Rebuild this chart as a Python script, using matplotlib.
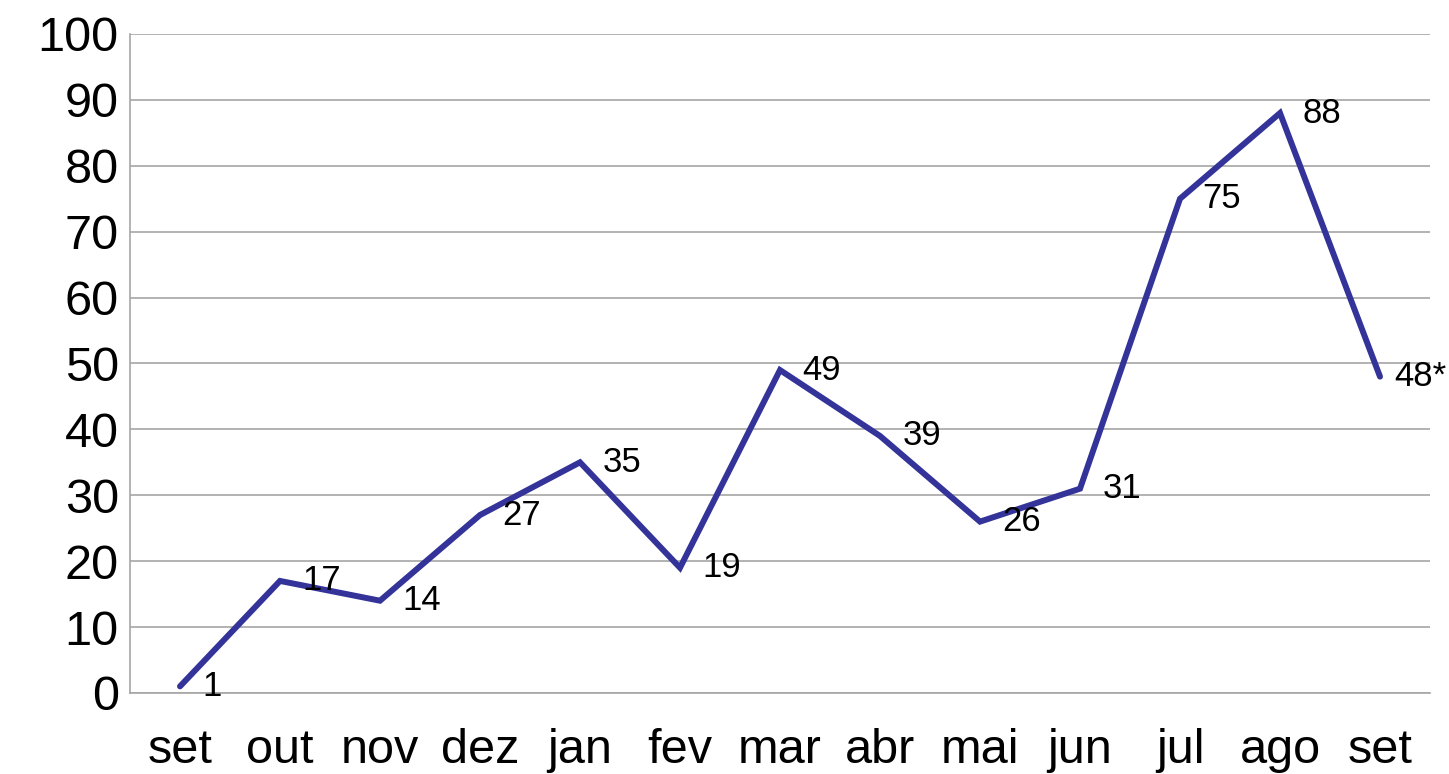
import matplotlib
matplotlib.use("Agg")
import matplotlib.pyplot as plt

months = ["set", "out", "nov", "dez", "jan", "fev", "mar",
          "abr", "mai", "jun", "jul", "ago", "set"]
values = [1, 17, 14, 27, 35, 19, 49, 39, 26, 31, 75, 88, 48]
point_labels = ["1", "17", "14", "27", "35", "19", "49",
                "39", "26", "31", "75", "88", "48*"]
y_ticks = [0, 10, 20, 30, 40, 50, 60, 70, 80, 90, 100]

plt.rcParams['font.family'] = ['Liberation Sans', 'DejaVu Sans']

fig = plt.figure(figsize=(14.49, 7.74), dpi=100)
ax = fig.add_axes([0.0897, 0.1047, 0.8972, 0.8514])

x = list(range(len(months)))
ax.plot(x, values, color='#333399', linewidth=4.3,
        solid_joinstyle='miter', solid_capstyle='round')

for xi, yi, lab in zip(x, values, point_labels):
    # last label is pulled in a bit so it stays inside the figure
    dx = 10 if xi == x[-1] else 16
    ax.annotate(lab, (xi, yi), xytext=(dx, 0), textcoords='offset points',
                ha='left', va='center', fontsize=25, color='black')

ax.set_xlim(-0.5, len(months) - 0.5)
ax.set_ylim(0, 100)
ax.set_yticks(y_ticks)
ax.set_xticks(x)
ax.set_xticklabels(months)

ax.yaxis.grid(True, color='#a6a6a6', linewidth=1.2)
ax.set_axisbelow(True)
for side in ['top', 'right']:
    ax.spines[side].set_visible(False)
for side in ['left', 'bottom']:
    ax.spines[side].set_color('#a6a6a6')
    ax.spines[side].set_linewidth(1.2)

ax.tick_params(axis='y', length=0, pad=8, labelsize=35)
ax.tick_params(axis='x', length=0, pad=25, labelsize=35)

fig.savefig("out.png", dpi=100)
